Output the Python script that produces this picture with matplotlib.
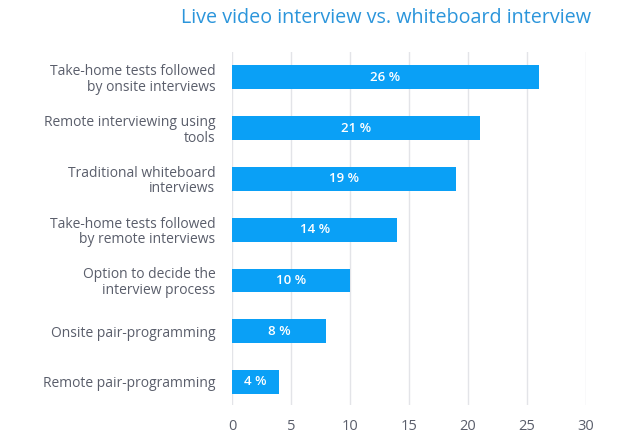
import matplotlib
matplotlib.use("Agg")
import matplotlib.pyplot as plt

plt.rcParams['font.family'] = ['Open Sans', 'DejaVu Sans']

# Interview format preference (%)
labels = [
    "Take-home tests followed\nby onsite interviews",
    "Remote interviewing using\ntools",
    "Traditional whiteboard\ninterviews",
    "Take-home tests followed\nby remote interviews",
    "Option to decide the\ninterview process",
    "Onsite pair-programming",
    "Remote pair-programming",
]
values = [26, 21, 19, 14, 10, 8, 4]
xticks = [0, 5, 10, 15, 20, 25, 30]

bar_color = '#0aa0f6'
text_color = '#5a5e6b'

fig = plt.figure(figsize=(6.4, 4.41), dpi=100)
ax = fig.add_axes([0.3625, 0.082, 0.553, 0.8])

y = list(range(len(values)))
ax.barh(y, values, height=0.47, color=bar_color, zorder=2)
for yi, v in zip(y, values):
    ax.text(v / 2, yi, f"{v} %", ha='center', va='center', color='white',
            fontsize=9.5, fontweight='semibold', zorder=3)

ax.set_ylim(6.45, -0.5)
ax.set_xlim(0, 30)
ax.set_xticks(xticks)
ax.set_yticks(y)
ax.set_yticklabels(labels, fontsize=10, color=text_color, linespacing=1.05)
ax.tick_params(axis='x', colors=text_color, labelsize=10.5, length=0, pad=10)
ax.tick_params(axis='y', length=0, pad=12)
for lab in ax.get_yticklabels():
    lab.set_ha('right')
ax.xaxis.grid(True, color='#e3e4e8', linewidth=1, zorder=0)
for s in ax.spines.values():
    s.set_visible(False)

fig.text(0.603, 0.96, "Live video interview vs. whiteboard interview",
         ha='center', va='center', fontsize=14.2, color='#2b95db')

fig.savefig("out.png", dpi=100)
